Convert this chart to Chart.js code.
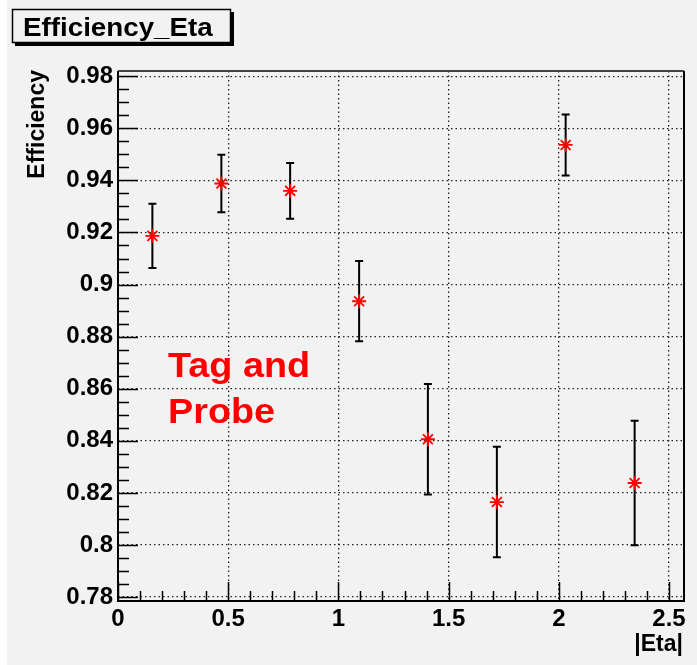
<!DOCTYPE html>
<html>
<head>
<meta charset="utf-8">
<script src="https://cdn.jsdelivr.net/npm/chart.js@4/dist/chart.umd.min.js"></script>
<style>
  html, body { margin: 0; padding: 0; background: #ffffff; }
  canvas { display: block; }
</style>
</head>
<body>
<canvas id="effChart" width="697" height="665"></canvas>
<script>
// |Eta| bin centres and measured efficiency with its error
const etaBins = [0.156, 0.469, 0.781, 1.094, 1.406, 1.719, 2.031, 2.344];
const efficiency = [0.9187, 0.9388, 0.9360, 0.8936, 0.8406, 0.8165, 0.9536, 0.8238];
const effError = [0.0123, 0.0110, 0.0107, 0.0154, 0.0212, 0.0212, 0.0117, 0.0239];

const xTicks = [0, 0.5, 1, 1.5, 2, 2.5];
const yTicks = [0.78, 0.80, 0.82, 0.84, 0.86, 0.88, 0.90, 0.92, 0.94, 0.96, 0.98];
const xMinorStep = 0.1;
const yMinorStep = 0.005;

const titleText = 'Efficiency_Eta';
const xTitle = '|Eta|';
const yTitle = 'Efficiency';
const noteLines = ['Tag and', 'Probe'];

const FONT = '"Liberation Sans", Arial, sans-serif';
const BG = '#f2f2f2';

// text slightly stretched sideways, like the original's wide Helvetica
function wideText(ctx, text, x, y, sx) {
    ctx.save();
    ctx.translate(x, y);
    ctx.scale(sx, 1);
    ctx.fillText(text, 0, 0);
    ctx.restore();
}

// background, title box, axis titles and the note
const decorPlugin = {
    id: 'decor',
    beforeDraw(chart) {
        const ctx = chart.ctx;
        ctx.save();
        ctx.fillStyle = BG;
        ctx.fillRect(7, 0, chart.width - 7, chart.height);
        ctx.restore();
    },
    afterDraw(chart) {
        const ctx = chart.ctx;
        const area = chart.chartArea;
        const xs = chart.scales.x;
        const ys = chart.scales.y;
        ctx.save();

        // inward tick marks on left and bottom axes
        ctx.strokeStyle = '#000';
        ctx.lineWidth = 1.5;
        ctx.beginPath();
        for (let v = yTicks[0]; v <= yTicks[yTicks.length - 1] + 1e-9; v += yMinorStep) {
            const py = Math.round(ys.getPixelForValue(v)) + 0.5;
            const major = yTicks.some(t => Math.abs(t - v) < 1e-6);
            ctx.moveTo(area.left, py);
            ctx.lineTo(area.left + (major ? 20 : 11), py);
        }
        for (let v = xTicks[0]; v <= xs.max + 1e-9; v += xMinorStep) {
            const px = Math.round(xs.getPixelForValue(v)) + 0.5;
            const major = xTicks.some(t => Math.abs(t - v) < 1e-6);
            ctx.moveTo(px, area.bottom);
            ctx.lineTo(px, area.bottom - (major ? 19 : 10));
        }
        ctx.stroke();

        // frame
        ctx.lineWidth = 2;
        ctx.strokeStyle = '#444';
        ctx.beginPath();
        ctx.moveTo(area.left, area.top);
        ctx.lineTo(area.right, area.top);
        ctx.stroke();
        ctx.strokeStyle = '#000';
        ctx.beginPath();
        ctx.moveTo(area.right, area.top);
        ctx.lineTo(area.right, area.bottom);
        ctx.lineTo(area.left, area.bottom);
        ctx.lineTo(area.left, area.top);
        ctx.stroke();

        // title box with shadow
        ctx.fillStyle = '#000';
        ctx.fillRect(15, 12, 219, 34);
        ctx.fillStyle = BG;
        ctx.fillRect(12, 9, 219, 34);
        ctx.lineWidth = 1.5;
        ctx.strokeRect(12.5, 9.5, 218, 33);
        ctx.fillStyle = '#000';
        ctx.font = 'bold 25px ' + FONT;
        ctx.textAlign = 'left';
        ctx.textBaseline = 'alphabetic';
        wideText(ctx, titleText, 23, 36, 1.11);

        // axis titles
        ctx.font = 'bold 23px ' + FONT;
        ctx.textAlign = 'right';
        ctx.fillText(xTitle, 683, 651);
        ctx.save();
        ctx.translate(44, 70);
        ctx.rotate(-Math.PI / 2);
        ctx.fillText(yTitle, 0, 0);
        ctx.restore();

        // note
        ctx.fillStyle = '#ff0000';
        ctx.font = 'bold 35px ' + FONT;
        ctx.textAlign = 'left';
        noteLines.forEach((line, i) => wideText(ctx, line, 168, 377 + i * 46, 1.08));

        ctx.restore();
    }
};

// vertical error bars with small caps
const errorBarPlugin = {
    id: 'errorBars',
    beforeDatasetsDraw(chart) {
        const ctx = chart.ctx;
        const xs = chart.scales.x;
        const ys = chart.scales.y;
        ctx.save();
        ctx.strokeStyle = '#000';
        ctx.lineWidth = 2;
        etaBins.forEach((eta, i) => {
            const px = xs.getPixelForValue(eta);
            const top = ys.getPixelForValue(efficiency[i] + effError[i]);
            const bot = ys.getPixelForValue(efficiency[i] - effError[i]);
            ctx.beginPath();
            ctx.moveTo(px, top);
            ctx.lineTo(px, bot);
            ctx.moveTo(px - 4, top);
            ctx.lineTo(px + 4, top);
            ctx.moveTo(px - 4, bot);
            ctx.lineTo(px + 4, bot);
            ctx.stroke();
        });
        ctx.restore();
    }
};

function initializeChart() {
    const ctx = document.getElementById('effChart').getContext('2d');
    const points = etaBins.map((eta, i) => ({ x: eta, y: efficiency[i] }));

    new Chart(ctx, {
        type: 'scatter',
        data: {
            datasets: [{
                label: yTitle,
                data: points,
                pointStyle: 'star',
                pointRadius: 7,
                pointBorderWidth: 1.8,
                borderColor: '#ff0000',
                backgroundColor: '#ff0000',
                showLine: false
            }]
        },
        options: {
            responsive: false,
            animation: false,
            devicePixelRatio: 1,
            layout: { padding: { top: 71, right: 13, left: 0, bottom: 0 } },
            plugins: {
                legend: { display: false },
                tooltip: { enabled: false },
                title: { display: false }
            },
            scales: {
                x: {
                    type: 'linear',
                    min: 0,
                    max: 2.568,
                    afterBuildTicks: scale => { scale.ticks = xTicks.map(v => ({ value: v })); },
                    afterFit: scale => { scale.height = 64; },
                    grid: { color: '#222', lineWidth: 1.3, drawTicks: false },
                    border: { display: false, dash: [1.5, 3] },
                    ticks: {
                        color: '#000',
                        padding: 4,
                        maxRotation: 0,
                        font: { family: FONT, size: 24, weight: 'bold' },
                        callback: v => String(Math.round(v * 100) / 100)
                    }
                },
                y: {
                    type: 'linear',
                    min: 0.7785,
                    max: 0.982,
                    afterBuildTicks: scale => { scale.ticks = yTicks.map(v => ({ value: v })); },
                    afterFit: scale => { scale.width = 118; },
                    grid: { color: '#222', lineWidth: 1.3, drawTicks: false },
                    border: { display: false, dash: [1.5, 3] },
                    ticks: {
                        color: '#000',
                        padding: 5,
                        font: { family: FONT, size: 24, weight: 'bold' },
                        callback: v => String(Math.round(v * 100) / 100)
                    }
                }
            }
        },
        plugins: [decorPlugin, errorBarPlugin]
    });
}

document.addEventListener('DOMContentLoaded', initializeChart);
</script>
</body>
</html>
